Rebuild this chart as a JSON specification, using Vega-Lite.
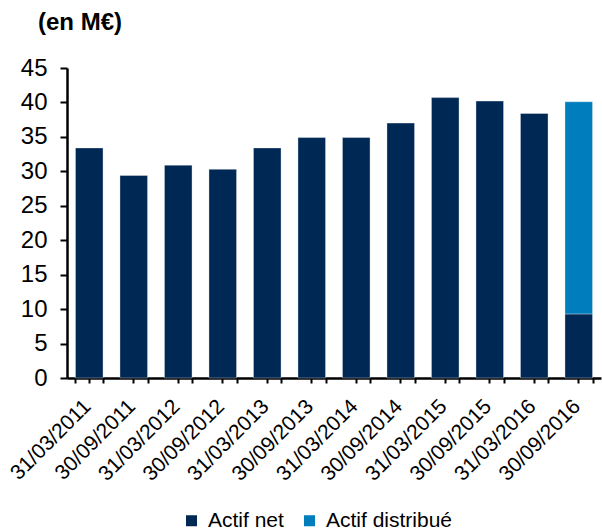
{
  "$schema": "https://vega.github.io/schema/vega-lite/v6.json",
  "autosize": "none",
  "width": 534,
  "height": 310,
  "padding": {"left": 67, "top": 68, "right": 1, "bottom": 153},
  "background": "white",
  "config": {
    "view": {"stroke": null},
    "font": "Liberation Sans"
  },
  "title": {
    "text": "(en M€)",
    "anchor": "start",
    "frame": "group",
    "font": "Liberation Sans",
    "fontSize": 24,
    "fontWeight": "bold",
    "color": "#000000",
    "baseline": "alphabetic",
    "offset": 2,
    "dx": -29
  },
  "data": {
    "values": [
      {"date": "31/03/2011", "series": "Actif net", "value": 33.4},
      {"date": "30/09/2011", "series": "Actif net", "value": 29.4},
      {"date": "31/03/2012", "series": "Actif net", "value": 30.9},
      {"date": "30/09/2012", "series": "Actif net", "value": 30.3},
      {"date": "31/03/2013", "series": "Actif net", "value": 33.4},
      {"date": "30/09/2013", "series": "Actif net", "value": 34.9},
      {"date": "31/03/2014", "series": "Actif net", "value": 34.9},
      {"date": "30/09/2014", "series": "Actif net", "value": 37.0},
      {"date": "31/03/2015", "series": "Actif net", "value": 40.7},
      {"date": "30/09/2015", "series": "Actif net", "value": 40.2},
      {"date": "31/03/2016", "series": "Actif net", "value": 38.4},
      {"date": "30/09/2016", "series": "Actif net", "value": 9.3},
      {"date": "30/09/2016", "series": "Actif distribué", "value": 30.8}
    ]
  },
  "resolve": {"axis": {"x": "independent"}},
  "layer": [
    {
      "mark": {"type": "bar", "stroke": "#ffffff", "strokeOpacity": 0.35, "strokeWidth": 1},
      "encoding": {
        "x": {
          "field": "date",
          "type": "nominal",
          "sort": null,
          "scale": {"paddingInner": 0.38, "paddingOuter": 0.19},
          "axis": {
            "title": null,
            "orient": "bottom",
            "labelAngle": -45,
            "labelAlign": "right",
            "labelBaseline": "middle",
            "labelFontSize": 21,
            "labelColor": "#000000",
            "labelPadding": 20,
            "labelOffset": -2,
            "tickBand": "extent",
            "tickSize": 5,
            "tickWidth": 2,
            "tickColor": "#000000",
            "domainColor": "#000000",
            "domainWidth": 2.5
          }
        },
        "y": {
          "field": "value",
          "type": "quantitative",
          "stack": "zero",
          "scale": {"domain": [0, 45], "nice": false},
          "axis": {
            "title": null,
            "values": [0, 5, 10, 15, 20, 25, 30, 35, 40, 45],
            "labelOverlap": false,
            "grid": false,
            "labelFontSize": 24,
            "labelColor": "#000000",
            "labelPadding": 13,
            "tickSize": 7,
            "tickWidth": 2,
            "tickColor": "#000000",
            "domainColor": "#000000",
            "domainWidth": 2.5
          }
        },
        "color": {
          "field": "series",
          "type": "nominal",
          "scale": {"domain": ["Actif net", "Actif distribué"], "range": ["#002855", "#007dbc"]},
          "legend": {
            "title": null,
            "orient": "none",
            "direction": "horizontal",
            "legendX": 114,
            "legendY": 442,
            "symbolType": "square",
            "symbolSize": 121,
            "symbolStrokeWidth": 0,
            "labelFontSize": 21,
            "labelColor": "#000000",
            "labelOffset": 6,
            "columnPadding": 15
          }
        },
        "order": {"field": "series", "sort": "descending"}
      }
    },
    {
      "mark": {"type": "bar", "opacity": 0},
      "encoding": {
        "x": {
          "field": "date",
          "type": "nominal",
          "sort": null,
          "axis": {
            "title": null,
            "orient": "bottom",
            "labels": false,
            "domain": false,
            "tickBand": "center",
            "tickSize": 5,
            "tickWidth": 2,
            "tickColor": "#000000"
          }
        }
      }
    }
  ]
}
